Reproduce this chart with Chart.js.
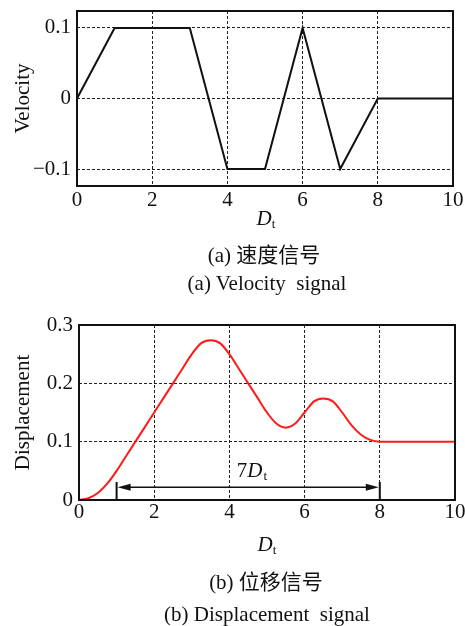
<!DOCTYPE html>
<html><head><meta charset="utf-8">
<script src="https://cdn.jsdelivr.net/npm/chart.js@4/dist/chart.umd.min.js"></script>
<style>
html,body{margin:0;padding:0;background:#fff;}
body{width:465px;height:626px;position:relative;overflow:hidden;font-family:"Liberation Serif","Noto Sans CJK SC",serif;color:#111;}
canvas{position:absolute;left:0;}
.txt{position:absolute;width:400px;text-align:center;white-space:pre;line-height:1;font-size:21px;}
sub{font-size:13px;vertical-align:-3px;font-style:normal;}
</style></head><body>
<canvas id="c1" width="465" height="215" style="top:0"></canvas>
<canvas id="c2" width="465" height="235" style="top:300px"></canvas>
<div class="txt" style="left:66px;top:208px"><i>D</i><sub>t</sub></div>
<div class="txt" style="left:64px;top:245px">(a) 速度信号</div>
<div class="txt" style="left:67px;top:273px">(a) Velocity  signal</div>
<div class="txt" style="left:67px;top:534px"><i>D</i><sub>t</sub></div>
<div class="txt" style="left:66px;top:572px">(b) 位移信号</div>
<div class="txt" style="left:67px;top:604px">(b) Displacement  signal</div>
<script>
// ---- data ----
const velX = [0, 1, 3, 4, 5, 6, 7, 8, 10];
const velY = [0, 0.1, 0.1, -0.1, -0.1, 0.1, -0.1, 0, 0];
const dispX = [0,0.25,0.5,0.75,1,1.25,1.5,1.75,2,2.25,2.5,2.75,3,3.25,3.5,3.75,4,4.25,4.5,4.75,5,5.25,5.5,5.75,6,6.25,6.5,6.75,7,7.25,7.5,7.75,8,9,10];
const dispY = [0,0.003,0.012,0.028,0.05,0.075,0.1,0.125,0.15,0.175,0.2,0.225,0.25,0.269,0.274,0.269,0.25,0.225,0.2,0.175,0.15,0.131,0.124,0.131,0.15,0.169,0.174,0.169,0.15,0.128,0.112,0.103,0.1,0.1,0.1];
const xTicks = [0, 2, 4, 6, 8, 10];
const velTicks = [-0.1, 0, 0.1];
const velTickLabels = ['\u22120.1', '0', '0.1'];
const dispTicks = [0, 0.1, 0.2, 0.3];
const dispTickLabels = ['0', '0.1', '0.2', '0.3'];
const arrowSpan = [1, 8];
const arrowLevel = 0.022;
const arrowTickTop = 0.031;
const arrowLabel = {x: 4.6, y: 0.051, pre: '7', main: 'D', sub: 't'};

const FONT = '"Liberation Serif", serif';
const INK = '#111';

const boxPlugin = {id: 'box', afterDraw(chart) {
  const {ctx, chartArea: a} = chart;
  ctx.save(); ctx.strokeStyle = INK; ctx.lineWidth = 2;
  ctx.strokeRect(a.left, a.top, a.right - a.left, a.bottom - a.top);
  ctx.restore();
}};

const arrowPlugin = {id: 'arrow', afterDraw(chart) {
  const {ctx} = chart; const xs = chart.scales.x, ys = chart.scales.y;
  const x1 = xs.getPixelForValue(arrowSpan[0]), x2 = xs.getPixelForValue(arrowSpan[1]);
  const y = ys.getPixelForValue(arrowLevel), yt = ys.getPixelForValue(arrowTickTop), yb = ys.getPixelForValue(0);
  ctx.save(); ctx.strokeStyle = INK; ctx.fillStyle = INK;
  ctx.lineWidth = 1.5;
  ctx.beginPath(); ctx.moveTo(x1 + 10, y); ctx.lineTo(x2 - 10, y); ctx.stroke();
  ctx.lineWidth = 2;
  ctx.beginPath(); ctx.moveTo(x1, yt); ctx.lineTo(x1, yb); ctx.moveTo(x2, yt); ctx.lineTo(x2, yb); ctx.stroke();
  ctx.beginPath(); ctx.moveTo(x1 + 1, y); ctx.lineTo(x1 + 14, y - 3.5); ctx.lineTo(x1 + 14, y + 3.5); ctx.closePath(); ctx.fill();
  ctx.beginPath(); ctx.moveTo(x2 - 1, y); ctx.lineTo(x2 - 14, y - 3.5); ctx.lineTo(x2 - 14, y + 3.5); ctx.closePath(); ctx.fill();
  const lx = xs.getPixelForValue(arrowLabel.x), ly = ys.getPixelForValue(arrowLabel.y);
  ctx.textBaseline = 'alphabetic'; ctx.textAlign = 'left';
  ctx.font = '21px ' + FONT; const w1 = ctx.measureText(arrowLabel.pre).width;
  ctx.font = 'italic 21px ' + FONT; const w2 = ctx.measureText(arrowLabel.main).width;
  ctx.font = '13px ' + FONT; const w3 = ctx.measureText(arrowLabel.sub).width;
  let sx = lx - (w1 + w2 + w3 + 1) / 2; const base = ly + 7;
  ctx.font = '21px ' + FONT; ctx.fillText(arrowLabel.pre, sx, base); sx += w1;
  ctx.font = 'italic 21px ' + FONT; ctx.fillText(arrowLabel.main, sx, base); sx += w2 + 1;
  ctx.font = '13px ' + FONT; ctx.fillText(arrowLabel.sub, sx, base + 3);
  ctx.restore();
}};

function makeChart(id, cfg) {
  return new Chart(document.getElementById(id), {
    type: 'line',
    data: {datasets: [{data: cfg.xs.map((x, i) => ({x, y: cfg.ys[i]})), borderColor: cfg.color, borderWidth: cfg.lw,
      pointRadius: 0, fill: false, tension: 0, cubicInterpolationMode: cfg.mono ? 'monotone' : 'default'}]},
    options: {
      responsive: false, animation: false, devicePixelRatio: 1,
      layout: {padding: {left: 0, top: cfg.top, right: 465 - cfg.right, bottom: 0}},
      plugins: {legend: {display: false}, tooltip: {enabled: false}},
      scales: {
        x: {type: 'linear', min: 0, max: 10,
          afterBuildTicks: s => { s.ticks = xTicks.map(v => ({value: v})); },
          afterFit: s => { s.height = cfg.h - cfg.bottom; s.paddingLeft = 0; s.paddingRight = 0; },
          ticks: {font: {family: FONT, size: 21}, color: INK, padding: cfg.xpad, maxRotation: 0, autoSkip: false, callback: v => String(v)},
          grid: {drawTicks: false, lineWidth: 1, color: c => (c.tick && (c.tick.value === 0 || c.tick.value === 10)) ? 'rgba(0,0,0,0)' : '#222'},
          border: {display: false, dash: [3, 2]}},
        y: {type: 'linear', min: cfg.ymin, max: cfg.ymax,
          afterBuildTicks: s => { s.ticks = cfg.yt.map(v => ({value: v})); },
          afterFit: s => { s.width = cfg.left; s.paddingTop = 0; s.paddingBottom = 0; },
          ticks: {font: {family: FONT, size: 21}, color: INK, padding: 6, autoSkip: false,
            callback: (v) => { const i = cfg.yt.findIndex(t => Math.abs(t - v) < 1e-9); return i >= 0 ? cfg.yl[i] : ''; }},
          grid: {drawTicks: false, lineWidth: 1, color: c => (c.tick && (Math.abs(c.tick.value - cfg.ymin) < 1e-9 || Math.abs(c.tick.value - cfg.ymax) < 1e-9)) ? 'rgba(0,0,0,0)' : '#222'},
          border: {display: false, dash: [3, 2]},
          title: {display: true, text: cfg.title, font: {family: FONT, size: 21}, color: INK, padding: {top: 11, bottom: 0}}}
      }
    },
    plugins: cfg.plugins
  });
}

makeChart('c1', {xs: velX, ys: velY, color: '#111', lw: 2, mono: false, top: 11, bottom: 186, left: 77, right: 453, h: 215, xpad: 2,
  ymin: -0.124, ymax: 0.124, yt: velTicks, yl: velTickLabels, title: 'Velocity', plugins: [boxPlugin]});
makeChart('c2', {xs: dispX, ys: dispY, color: '#ff1a1a', lw: 2, mono: true, top: 25, bottom: 200, left: 79, right: 455, h: 235, xpad: 0,
  ymin: 0, ymax: 0.3, yt: dispTicks, yl: dispTickLabels, title: 'Displacement', plugins: [boxPlugin, arrowPlugin]});
</script>
</body></html>
